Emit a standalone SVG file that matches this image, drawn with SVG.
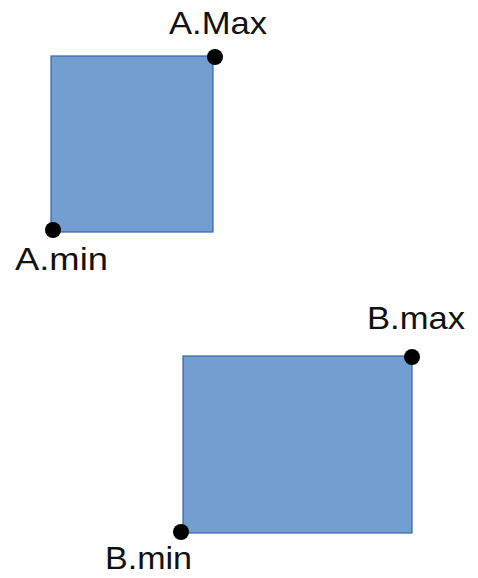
<svg xmlns="http://www.w3.org/2000/svg" width="478" height="578" viewBox="0 0 478 578">
<style>
.box{fill:#729fcf;stroke:#3465a4;stroke-width:1.2}
.pt{fill:#000}
.lbl{font-family:"Liberation Sans",Arial,sans-serif;font-size:30.5px;fill:#111}
</style>
<rect width="478" height="578" fill="#fff"/>
<g id="A">
<rect class="box" x="51" y="56" width="162" height="176"/>
<circle class="pt" cx="215" cy="57" r="8"/>
<circle class="pt" cx="53" cy="230" r="8"/>
<text class="lbl" x="169" y="34" textLength="98" lengthAdjust="spacingAndGlyphs">A.Max</text>
<text class="lbl" x="15" y="270" textLength="93" lengthAdjust="spacingAndGlyphs">A.min</text>
</g>
<g id="B">
<rect class="box" x="183" y="356" width="229" height="177"/>
<circle class="pt" cx="412" cy="357" r="8"/>
<circle class="pt" cx="181" cy="532" r="8"/>
<text class="lbl" x="367" y="329" textLength="98" lengthAdjust="spacingAndGlyphs">B.max</text>
<text class="lbl" x="105" y="569" textLength="87" lengthAdjust="spacingAndGlyphs">B.min</text>
</g>
<g id="connectors"></g>
</svg>
